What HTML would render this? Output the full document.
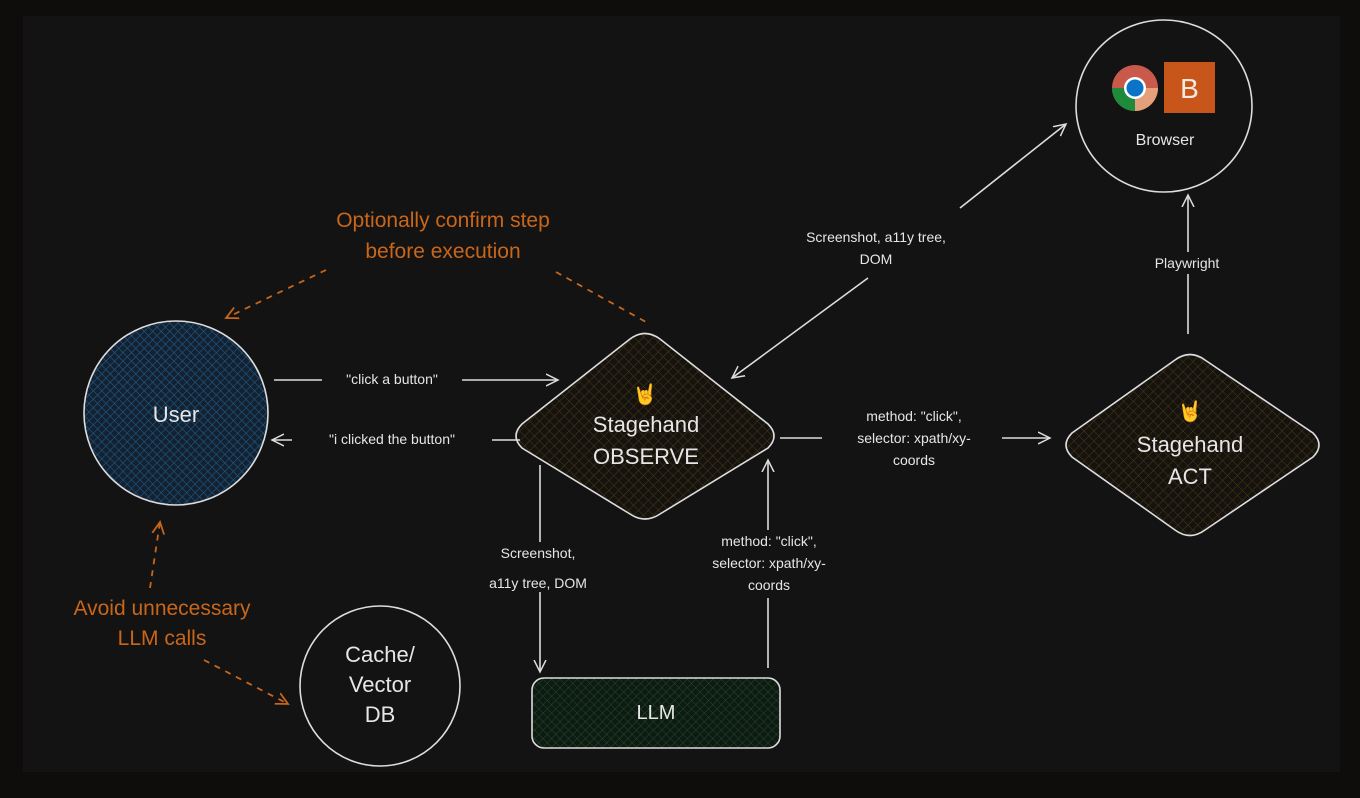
<!DOCTYPE html>
<html><head><meta charset="utf-8"><style>
html,body{margin:0;padding:0;background:#0e0d0c;}
svg{display:block}
text{font-family:"Liberation Sans",sans-serif;fill:#e6e6e6}
</style></head><body>
<svg width="1360" height="798" viewBox="0 0 1360 798">
<defs>
<pattern id="hb" width="6" height="6" patternUnits="userSpaceOnUse" patternTransform="rotate(45)"><rect width="6" height="6" fill="#132130"/><path d="M0 0V6M0 0H6" stroke="#1f5a88" stroke-width="1.2"/></pattern>
<pattern id="hy" width="7" height="7" patternUnits="userSpaceOnUse" patternTransform="rotate(45)"><rect width="7" height="7" fill="#151310"/><path d="M0 0V7M0 0H7" stroke="#4a3610" stroke-width="1.1"/></pattern>
<pattern id="hg" width="6" height="6" patternUnits="userSpaceOnUse" patternTransform="rotate(45)"><rect width="6" height="6" fill="#0f1a12"/><path d="M0 0V6M0 0H6" stroke="#1b4a2a" stroke-width="1.1"/></pattern>
<marker id="a" markerWidth="14" markerHeight="14" refX="12" refY="7" orient="auto" markerUnits="userSpaceOnUse"><path d="M0 1L12 7L0 13" fill="none" stroke="#ddd" stroke-width="1.5"/></marker>
<marker id="o" markerWidth="14" markerHeight="14" refX="12" refY="7" orient="auto" markerUnits="userSpaceOnUse"><path d="M0 1L12 7L0 13" fill="none" stroke="#c8661a" stroke-width="1.8"/></marker>
</defs>
<rect x="23" y="16" width="1317" height="756" fill="#131313"/>

<circle cx="176" cy="413" r="92" fill="url(#hb)" stroke="#ddd" stroke-width="1.6"/>
<text x="176" y="422" text-anchor="middle" font-size="22">User</text>
<circle cx="380" cy="686" r="80" fill="#131313" stroke="#ddd" stroke-width="1.6"/>
<text x="380" y="662" text-anchor="middle" font-size="22">Cache/</text>
<text x="380" y="692" text-anchor="middle" font-size="22">Vector</text>
<text x="380" y="722" text-anchor="middle" font-size="22">DB</text>
<ellipse cx="1164" cy="106" rx="88" ry="86" fill="#131313" stroke="#ddd" stroke-width="1.6"/>
<circle cx="1135" cy="88" r="23" fill="#c95a4b"/><path d="M1135 88L1112 88A23 23 0 0 0 1135 111Z" fill="#1e8a3a"/><path d="M1135 88L1135 111A23 23 0 0 0 1158 88Z" fill="#e3a07a"/>
<circle cx="1135" cy="88" r="11" fill="#fff"/><circle cx="1135" cy="88" r="8.5" fill="#0a74c8"/>
<rect x="1164" y="62" width="51" height="51" fill="#c8561b"/>
<text x="1189.5" y="98" text-anchor="middle" font-size="28" style="fill:#f6e9e0">B</text>
<text x="1165" y="145" text-anchor="middle" font-size="16">Browser</text>

<path d="M630 339Q645 328 660 339L768 424Q780 436 768 448L660 514Q645 524 630 514L522 448Q510 436 522 424Z" fill="url(#hy)" stroke="#ddd" stroke-width="1.6"/>
<text x="645" y="401" text-anchor="middle" font-size="20">🤘</text>
<text x="646" y="432" text-anchor="middle" font-size="22">Stagehand</text>
<text x="646" y="464" text-anchor="middle" font-size="22">OBSERVE</text>

<path d="M1175 360Q1190 349 1205 360L1313 433Q1325 445 1313 457L1205 530Q1190 541 1175 530L1072 457Q1060 445 1072 433Z" fill="url(#hy)" stroke="#ddd" stroke-width="1.6"/>
<text x="1190" y="418" text-anchor="middle" font-size="20">🤘</text>
<text x="1190" y="452" text-anchor="middle" font-size="22">Stagehand</text>
<text x="1190" y="484" text-anchor="middle" font-size="22">ACT</text>

<rect x="532" y="678" width="248" height="70" rx="12" fill="url(#hg)" stroke="#ddd" stroke-width="1.6"/>
<text x="656" y="719" text-anchor="middle" font-size="20">LLM</text>

<g stroke="#ddd" stroke-width="1.6" fill="none">
<path d="M274 380L558 380" marker-end="url(#a)"/>
<path d="M520 440L272 440" marker-end="url(#a)"/>
<path d="M780 438L1050 438" marker-end="url(#a)"/>
<path d="M540 465L540 672" marker-end="url(#a)"/>
<path d="M768 668L768 460" marker-end="url(#a)"/>
<path d="M1188 334L1188 195" marker-end="url(#a)"/>
<path d="M868 278L732 378" marker-end="url(#a)"/>
<path d="M960 208L1066 124" marker-end="url(#a)"/>
</g>
<g stroke="#c8661a" stroke-width="1.8" fill="none" stroke-dasharray="6 6">
<path d="M326 270L226 318" marker-end="url(#o)"/>
<path d="M556 272L646 322"/>
<path d="M150 588L160 522" marker-end="url(#o)"/>
<path d="M204 660L288 704" marker-end="url(#o)"/>
</g>

<rect x="322" y="368" width="140" height="22" fill="#131313"/>
<text x="392" y="384" text-anchor="middle" font-size="14">"click a button"</text>
<rect x="292" y="428" width="200" height="22" fill="#131313"/>
<text x="392" y="444" text-anchor="middle" font-size="14">"i clicked the button"</text>
<rect x="822" y="405" width="180" height="68" fill="#131313"/>
<text x="914" y="421" text-anchor="middle" font-size="14">method: "click",</text>
<text x="914" y="443" text-anchor="middle" font-size="14">selector: xpath/xy-</text>
<text x="914" y="465" text-anchor="middle" font-size="14">coords</text>
<rect x="680" y="530" width="180" height="68" fill="#131313"/>
<text x="769" y="546" text-anchor="middle" font-size="14">method: "click",</text>
<text x="769" y="568" text-anchor="middle" font-size="14">selector: xpath/xy-</text>
<text x="769" y="590" text-anchor="middle" font-size="14">coords</text>
<rect x="470" y="542" width="140" height="50" fill="#131313"/>
<text x="538" y="558" text-anchor="middle" font-size="14">Screenshot,</text>
<text x="538" y="588" text-anchor="middle" font-size="14">a11y tree, DOM</text>
<rect x="800" y="226" width="152" height="44" fill="#131313"/>
<text x="876" y="242" text-anchor="middle" font-size="14">Screenshot, a11y tree,</text>
<text x="876" y="264" text-anchor="middle" font-size="14">DOM</text>
<rect x="1138" y="252" width="100" height="22" fill="#131313"/>
<text x="1187" y="268" text-anchor="middle" font-size="14">Playwright</text>

<text x="443" y="227" text-anchor="middle" font-size="21" style="fill:#c8661a">Optionally confirm step</text>
<text x="443" y="258" text-anchor="middle" font-size="21" style="fill:#c8661a">before execution</text>
<text x="162" y="615" text-anchor="middle" font-size="21" style="fill:#c8661a">Avoid unnecessary</text>
<text x="162" y="645" text-anchor="middle" font-size="21" style="fill:#c8661a">LLM calls</text>
</svg>
</body></html>
